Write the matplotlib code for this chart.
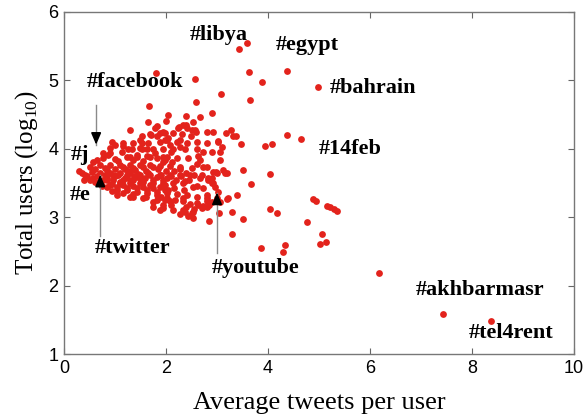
import matplotlib
matplotlib.use("Agg")
import matplotlib.pyplot as plt

# Average tweets per user (x) and log10 of total users (y) for each hashtag
avg_tweets = [
    # sparse / outer hashtags
    3.43, 3.59, 3.63, 4.37, 3.88, 4.98, 3.08, 3.65, 2.57, 1.80, 1.67, 2.59,
    2.90, 2.04, 2.39, 2.67, 1.65, 2.00, 2.25, 2.39, 2.53, 2.57, 1.82, 1.94,
    1.29, 2.14, 1.69, 1.82, 1.53, 2.04, 2.31, 2.49, 2.80, 2.92, 3.18, 3.27,
    3.31, 3.37, 4.37, 4.65, 3.47, 3.94, 4.08, 3.02, 3.10, 3.06, 2.73, 3.51,
    4.04, 2.98, 3.16, 2.90, 2.92, 3.67, 2.96, 3.39, 3.20, 3.02, 2.80, 2.84,
    4.88, 4.94, 5.16, 5.22, 5.29, 5.35, 4.04, 4.18, 3.51, 3.29, 2.84, 4.76,
    3.29, 5.06, 5.14, 5.02, 4.33, 3.86, 4.29, 6.18, 7.44, 8.38,
    2.33, 2.41, 2.59, 1.98,
    # dense group
    0.94, 1.35, 1.53, 1.65, 1.88, 2.22, 2.41, 2.61, 2.80, 3.02, 1.78, 1.71,
    1.49, 1.16, 1.88, 2.02, 2.24, 2.51, 1.98, 2.27, 2.08, 2.90, 2.61, 2.37,
    2.14, 1.94, 1.75, 1.53, 1.33, 1.14, 0.90, 0.76, 1.00, 1.24, 1.43, 1.63,
    1.82, 2.02, 2.22, 2.43, 2.67, 3.06, 2.63, 2.12, 2.61, 2.80, 0.71, 0.57,
    0.90, 1.10, 1.29, 1.49, 1.69, 1.88, 2.08, 2.27, 2.51, 2.73, 2.92, 3.12,
    3.00, 2.82, 2.90, 2.67, 2.47, 2.27, 2.08, 1.88, 1.69, 1.49, 1.29, 1.10,
    0.90, 0.71, 0.55, 0.41, 0.35, 0.51, 0.61, 0.76, 0.96, 1.16, 1.35, 1.55,
    1.75, 1.94, 2.14, 2.33, 2.53, 2.73, 0.84, 1.04, 1.24, 1.43, 1.63, 1.82,
    2.02, 2.22, 2.41, 2.61, 2.80, 3.00, 1.04, 1.29, 1.55, 1.82, 2.08, 2.33,
    2.61, 1.75, 1.94, 2.14, 2.33, 2.53, 2.73, 2.27, 2.43, 2.53, 3.06, 3.04,
    2.51, 2.37, 2.71, 2.80, 2.90, 2.63, 2.47, 2.33, 2.18, 1.98, 3.22, 2.80,
    1.98, 2.37, 1.98, 2.71, 2.82, 2.27, 3.20, 2.10, 2.27, 1.98,
    0.65, 0.76, 0.86, 0.90, 1.00, 1.16, 1.25, 1.29, 1.43, 1.49, 1.63, 1.69,
    1.78, 1.94, 1.94, 1.75, 1.55, 1.35, 1.16, 0.84, 0.57, 0.84, 0.96, 1.24,
    1.43, 1.82, 2.02, 0.90, 1.10, 1.29, 1.49, 1.69, 1.88, 2.04, 1.04, 1.24,
    1.43, 1.63, 1.82, 2.02, 1.35, 1.75, 1.94, 1.88,
    0.45, 0.65, 0.80, 1.00, 1.20, 1.38, 1.58, 0.70, 0.95, 1.15, 1.35, 1.55,
    1.75, 1.00, 1.20, 1.40, 1.60, 0.80, 1.85, 2.15, 1.10, 1.30, 1.50, 0.60,
    1.05, 1.35, 1.55, 0.95, 1.15, 1.35, 1.60, 1.90, 2.10, 2.40, 2.55, 1.75,
    1.95, 2.20, 2.45, 2.60, 2.35, 2.15, 2.40, 2.55, 2.00, 0.30, 0.50, 0.40,
    0.75, 0.85, 1.05, 1.25, 1.45, 1.65, 1.90, 2.10, 2.30,
]
total_users_log = [
    5.46, 5.54, 5.13, 5.14, 4.98, 4.91, 4.80, 4.72, 5.02, 5.11, 4.63, 4.69,
    4.53, 4.50, 4.48, 4.47, 4.39, 4.41, 4.32, 4.35, 4.39, 4.28, 4.34, 4.25,
    4.28, 4.23, 4.22, 4.19, 4.18, 4.16, 4.22, 4.18, 4.25, 4.25, 4.23, 4.28,
    4.18, 4.18, 4.20, 4.15, 4.07, 4.04, 4.07, 4.12, 4.03, 3.96, 3.96, 3.69,
    3.63, 3.66, 3.65, 3.58, 3.50, 3.49, 3.44, 3.33, 3.27, 3.37, 3.23, 3.18,
    3.27, 3.24, 3.17, 3.15, 3.12, 3.09, 3.12, 3.06, 2.98, 3.08, 2.95, 2.93,
    2.76, 2.76, 2.64, 2.61, 2.60, 2.55, 2.49, 2.19, 1.58, 1.48,
    4.35, 4.31, 4.25, 4.23,
    4.10, 4.09, 4.09, 4.09, 4.10, 4.10, 4.09, 4.10, 4.09, 4.10, 4.31, 4.20,
    4.13, 4.04, 4.23, 4.13, 4.31, 4.28, 4.13, 4.13, 4.06, 3.96, 3.99, 3.99,
    3.99, 3.99, 3.99, 3.99, 3.99, 3.96, 3.94, 3.87, 3.85, 3.88, 3.88, 3.90,
    3.87, 3.88, 3.87, 3.87, 3.84, 3.84, 3.90, 3.80, 3.78, 3.74, 3.77, 3.81,
    3.77, 3.77, 3.77, 3.77, 3.77, 3.75, 3.75, 3.74, 3.72, 3.74, 3.66, 3.69,
    3.65, 3.58, 3.50, 3.58, 3.62, 3.62, 3.62, 3.62, 3.62, 3.62, 3.65, 3.65,
    3.65, 3.65, 3.66, 3.62, 3.65, 3.55, 3.52, 3.55, 3.55, 3.55, 3.55, 3.52,
    3.50, 3.50, 3.50, 3.50, 3.44, 3.43, 3.44, 3.44, 3.43, 3.42, 3.40, 3.37,
    3.36, 3.34, 3.33, 3.30, 3.28, 3.28, 3.33, 3.30, 3.28, 3.25, 3.23, 3.23,
    3.21, 3.15, 3.14, 3.11, 3.11, 3.08, 3.17, 3.04, 3.02, 2.99, 3.22, 3.06,
    3.06, 3.08, 3.14, 3.15, 3.22, 3.18, 3.20, 3.28, 3.25, 3.25, 3.28, 3.33,
    3.40, 3.53, 3.47, 3.61, 3.55, 3.70, 3.65, 3.96, 4.03, 3.84,
    3.84, 3.94, 3.91, 4.01, 4.06, 4.09, 3.99, 3.88, 3.91, 4.01, 3.99, 3.88,
    3.94, 3.88, 3.80, 3.74, 3.74, 3.72, 3.74, 3.69, 3.58, 3.58, 3.62, 3.62,
    3.59, 3.59, 3.58, 3.47, 3.50, 3.50, 3.50, 3.47, 3.44, 3.40, 3.40, 3.40,
    3.37, 3.36, 3.33, 3.28, 3.30, 3.22, 3.18, 3.11,
    3.60, 3.60, 3.62, 3.60, 3.58, 3.60, 3.58, 3.50, 3.48, 3.47, 3.45, 3.44,
    3.42, 3.70, 3.70, 3.69, 3.68, 3.72, 3.70, 3.68, 3.52, 3.55, 3.55, 3.70,
    3.82, 3.83, 3.82, 3.38, 3.36, 3.34, 3.30, 3.30, 3.18, 3.15, 3.12, 3.55,
    3.55, 3.55, 3.55, 3.45, 3.40, 3.42, 3.65, 3.62, 3.68, 3.68, 3.74, 3.55,
    3.45, 3.55, 3.62, 3.67, 3.63, 3.65, 3.62, 3.60, 3.60,
]

x_ticks = [0, 2, 4, 6, 8, 10]
y_ticks = [1, 2, 3, 4, 5, 6]

serif = "Liberation Serif"
plt.rcParams["mathtext.fontset"] = "custom"
plt.rcParams["mathtext.rm"] = serif

fig = plt.figure(figsize=(5.84, 4.18), dpi=100)
ax = fig.add_axes([0.1096, 0.1531, 0.8733, 0.8182])

ax.scatter(avg_tweets, total_users_log, s=24, c="#e3231c", linewidths=0, zorder=2)

ax.set_xlim(0, 10)
ax.set_ylim(1, 6)
ax.set_xticks(x_ticks)
ax.set_yticks(y_ticks)
ax.tick_params(direction="in", top=True, right=True, length=4, width=0.8,
               color="#666666", labelsize=13, pad=4)
for lab in ax.get_xticklabels() + ax.get_yticklabels():
    lab.set_family("Liberation Sans")
for s in ax.spines.values():
    s.set_color("#777777")
    s.set_linewidth(1.0)

ax.set_xlabel("Average tweets per user", family=serif, fontsize=19, labelpad=11)
ax.set_ylabel(r"Total users (log$_{10}$)", family=serif, fontsize=18, labelpad=6)

# hashtag labels
tag_style = dict(family=serif, fontweight="bold", fontsize=16,
                 ha="center", va="center", zorder=3)
tags = [
    ("#libya", 3.04, 5.67), ("#egypt", 4.78, 5.52), ("#bahrain", 6.05, 4.89),
    ("#14feb", 5.61, 3.99), ("#facebook", 1.39, 4.98), ("#j", 0.31, 3.91),
    ("#e", 0.31, 3.33), ("#twitter", 1.35, 2.55), ("#youtube", 3.76, 2.26),
    ("#akhbarmasr", 8.16, 1.94), ("#tel4rent", 8.77, 1.30),
]
for text, tx, ty in tags:
    ax.text(tx, ty, text, **tag_style)

# pointer arrows: grey shaft with a black head
arrows = [
    (0.63, 4.64, 4.06),   # facebook, pointing down
    (0.71, 2.72, 3.62),   # twitter, pointing up
    (3.00, 2.48, 3.36),   # youtube, pointing up
]
for ax_x, y_tail, y_tip in arrows:
    ax.plot([ax_x, ax_x], [y_tail, y_tip], color="#8a8a8a", lw=1.0, zorder=4)
    direction = 1 if y_tip > y_tail else -1
    ax.annotate("", xy=(ax_x, y_tip), xytext=(ax_x, y_tip - direction * 0.12),
                arrowprops=dict(arrowstyle="-|>,head_length=0.7,head_width=0.3",
                                color="black", lw=1.2, shrinkA=0, shrinkB=0),
                zorder=5)

fig.savefig("out.png", dpi=100)
